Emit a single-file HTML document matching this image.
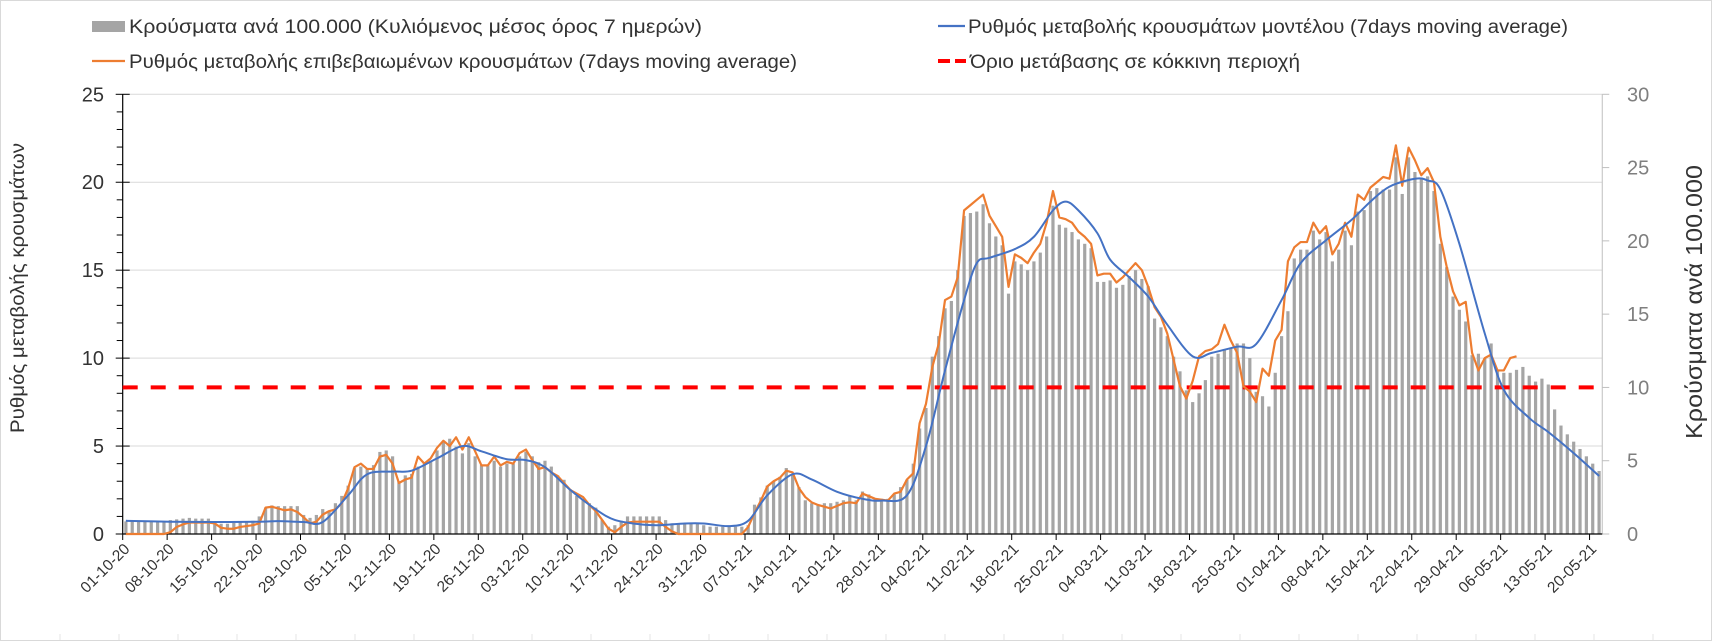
<!DOCTYPE html>
<html>
<head>
<meta charset="utf-8">
<style>
  html,body{margin:0;padding:0;background:#fff;}
  svg{display:block;font-family:"Liberation Sans","DejaVu Sans",sans-serif;}
</style>
</head>
<body>
<svg id="chart" width="1712" height="641" viewBox="0 0 1712 641" xmlns="http://www.w3.org/2000/svg">
  <rect x="0.5" y="0.5" width="1711" height="640" fill="#fff" stroke="#d9d9d9" stroke-width="1"/>
  <g id="grid"></g>
  <g id="bars"></g>
  <g id="axes"></g>
  <g id="lines"></g>
  <g id="labels"></g>

  <g>
    <g>
      <rect x="92" y="21" width="33" height="11" fill="#a5a5a5"/>
      <text x="129" y="33" font-size="19" fill="#333" textLength="573" lengthAdjust="spacingAndGlyphs">Κρούσματα ανά 100.000 (Κυλιόμενος μέσος όρος 7 ημερών)</text>
    </g>
    <g>
      <line x1="92" y1="61" x2="125" y2="61" stroke="#ed7d31" stroke-width="2.2"/>
      <text x="129" y="68" font-size="19" fill="#333" textLength="668" lengthAdjust="spacingAndGlyphs">Ρυθμός μεταβολής επιβεβαιωμένων κρουσμάτων (7days moving average)</text>
    </g>
    <g>
      <line x1="938" y1="26" x2="965" y2="26" stroke="#4472c4" stroke-width="2.2"/>
      <text x="968" y="33" font-size="19" fill="#333" textLength="600" lengthAdjust="spacingAndGlyphs">Ρυθμός μεταβολής κρουσμάτων μοντέλου (7days moving average)</text>
    </g>
    <g>
      <line x1="938" y1="61" x2="966" y2="61" stroke="#ff0000" stroke-width="4" stroke-dasharray="12,5"/>
      <text x="970" y="68" font-size="19" fill="#333" textLength="330" lengthAdjust="spacingAndGlyphs">Όριο μετάβασης σε κόκκινη περιοχή</text>
    </g>
  </g>

  <text transform="translate(24,288) rotate(-90)" text-anchor="middle" font-size="19" fill="#333" textLength="290" lengthAdjust="spacingAndGlyphs">Ρυθμός μεταβολής κρουσμάτων</text>
  <text transform="translate(1702,302) rotate(-90)" text-anchor="middle" font-size="23" fill="#333" textLength="274" lengthAdjust="spacingAndGlyphs">Κρούσματα ανά 100.000</text>
</svg>

<script>
// ---- DATA ----
const startDate = [2020, 9, 1]; // 01-10-20
const tickLabels = ["01-10-20","08-10-20","15-10-20","22-10-20","29-10-20","05-11-20","12-11-20","19-11-20","26-11-20","03-12-20","10-12-20","17-12-20","24-12-20","31-12-20","07-01-21","14-01-21","21-01-21","28-01-21","04-02-21","11-02-21","18-02-21","25-02-21","04-03-21","11-03-21","18-03-21","25-03-21","01-04-21","08-04-21","15-04-21","22-04-21","29-04-21","06-05-21","13-05-21","20-05-21"];
const leftTicks = [0,5,10,15,20,25];
const rightTicks = [0,5,10,15,20,25,30];
const threshold = [10]; // right axis value

// Cases per 100.000 (right axis), daily
const casesBars = [
0.86,0.86,0.86,0.86,0.86,0.86,0.86,
0.95,1.0,1.05,1.1,1.05,1.05,1.05,
0.8,0.7,0.7,0.75,0.8,0.85,0.9,
1.2,1.8,1.95,1.9,1.9,1.9,1.9,
1.3,1.1,1.3,1.7,1.55,2.1,2.6,
3.3,4.5,4.6,4.5,4.7,5.6,5.7,
5.3,3.6,4.0,4.1,4.6,4.8,5.0,
5.7,6.3,6.5,5.96,5.5,6.2,5.3,
4.7,4.7,5.0,4.6,4.8,4.8,5.3,
5.6,5.3,4.9,5.0,4.6,
4.0,3.7,3.05,2.6,2.4,2.1,1.8,0.95,0.5,0.6,0.9,1.2,1.2,1.2,1.2,1.2,1.2,0.95,
0.73,0.73,0.73,0.73,0.73,0.6,0.5,0.5,0.5,0.5,0.5,0.5,0.6,
2.0,2.5,3.3,3.6,3.9,4.5,4.1,3.2,2.3,2.1,2.0,2.1,2.1,2.2,2.3,2.6,2.3,2.9,2.7,2.4,2.4,2.4,2.7,3.2,3.7,4.8,
7.2,8.6,12.1,13.5,15.4,15.9,18.0,21.7,21.9,22.0,22.5,21.2,20.3,19.7,16.4,
18.6,18.4,18.0,18.6,19.2,20.3,22.4,21.1,20.9,20.6,
20.1,19.8,19.5,17.2,17.2,17.3,16.8,17.0,17.6,18.0,
17.4,16.9,14.7,14.1,13.5,12.1,11.1,9.8,9.0,
9.6,10.5,12.1,12.3,12.6,12.7,13.0,13.0,12.0,9.7,9.4,8.7,11.0,13.5,
15.2,18.8,19.4,19.4,20.7,20.1,20.6,18.6,19.4,20.7,19.7,22.0,22.1,23.4,23.6,23.5,23.5,25.7,23.2,25.7,24.7,24.3,24.4,23.4,
19.8,18.2,16.2,15.3,14.5,12.2,12.3,12.0,13.0,11.2,11.0,11.0,11.2,11.4,10.8,10.4,10.6,10.2,
8.5,7.4,6.8,6.3,5.8,5.3,4.8,4.3
];

// Confirmed cases rate (left axis), daily
const confirmedRate = [
0,0,0,0,0,0,0,
0.1,0.4,0.55,0.65,0.65,0.65,0.65,
0.6,0.35,0.3,0.3,0.4,0.45,0.5,
0.6,1.5,1.55,1.45,1.35,1.4,1.25,
0.95,0.6,0.7,1.1,1.3,1.4,1.75,
2.6,3.8,4.0,3.7,3.7,4.4,4.5,
4.0,2.9,3.1,3.2,4.4,4.0,4.3,
4.9,5.3,5.0,5.5,4.8,5.5,4.7,
3.9,3.9,4.4,3.9,4.1,4.0,4.6,
4.8,4.2,3.7,3.8,3.5,3.3,2.9,
2.5,2.3,2.1,1.65,1.3,0.8,0.3,
0.1,0.4,0.65,0.7,0.7,0.7,0.7,
0.7,0.4,0.15,0,0,0,0,
0,0,0,0,0,0,0,
0.4,1.2,1.9,2.7,3.0,3.2,3.6,
3.5,2.6,2.1,1.8,1.65,1.55,1.45,
1.6,1.75,1.8,1.75,2.3,2.15,2.0,
1.95,1.9,2.3,2.4,3.1,3.45,6.3,
7.4,9.5,10.8,13.3,13.5,14.6,18.4,
18.7,19.0,19.3,18.1,17.5,16.9,14.05,
15.9,15.7,15.4,16.0,16.5,17.7,19.5,
18.0,17.9,17.7,17.2,16.9,16.5,14.7,
14.8,14.8,14.3,14.6,15.0,15.4,15.0,
14.05,12.9,12.35,11.4,9.9,8.4,7.7,
8.7,10.1,10.4,10.5,10.8,11.9,11.0,
10.3,8.4,8.1,7.5,9.4,9.0,11.0,
11.6,15.5,16.3,16.6,16.6,17.7,17.1,
17.5,15.9,16.5,17.7,16.9,19.3,19.0,
19.7,20.0,20.3,20.2,22.1,19.8,21.97,
21.25,20.4,20.8,20.0,16.9,15.2,13.8,
13.0,13.2,10.3,9.3,10.0,10.2,9.3,
9.3,10.0,10.1
];

// Model rate (left axis): days since 01-10-20 and values
const modelDays = [0,7,14,21,24,28,31,35,38,42,45,49,53,56,60,63,66,70,74,77,81,84,88,91,95,98,101,105,108,112,116,119,123,126,129,132,134,136,140,143,146,148,150,153,155,158,161,164,168,171,175,178,182,185,189,193,196,199,203,205,207,210,214,217,221,224,228,232];
const modelRate = [0.75,0.70,0.68,0.70,0.73,0.68,0.68,2.2,3.4,3.55,3.6,4.3,5.0,4.7,4.25,4.2,3.8,2.5,1.4,0.8,0.55,0.5,0.6,0.6,0.45,0.75,2.2,3.4,3.1,2.4,2.0,1.9,2.2,5.0,9.3,13.3,15.4,15.7,16.2,16.9,18.4,18.9,18.4,17.1,15.6,14.6,13.5,11.9,10.1,10.3,10.65,10.8,13.3,15.4,16.7,17.85,18.9,19.75,20.2,20.1,19.6,16.5,11.4,8.2,6.6,5.8,4.6,3.3];

// ---- SCALES ----
const X0 = 122.7, DAY = 6.35, Y0 = 534, YTOP = 94.3;
const nDays = 233;
const xEdge = d => X0 + d * DAY;
const xMid = d => X0 + (d + 0.5) * DAY;
const yL = v => Y0 - v * (Y0 - YTOP) / 25;
const yR = v => Y0 - v * (Y0 - YTOP) / 30;
const XEND = xEdge(nDays);
const NS = "http://www.w3.org/2000/svg";
function mk(tag, attrs, parent) {
  const el = document.createElementNS(NS, tag);
  for (const k in attrs) el.setAttribute(k, attrs[k]);
  parent.appendChild(el);
  return el;
}
const gGrid = document.getElementById('grid');
const gBars = document.getElementById('bars');
const gAxes = document.getElementById('axes');
const gLines = document.getElementById('lines');
const gLab = document.getElementById('labels');

// gridlines
leftTicks.forEach(v => {
  if (v === 0) return;
  const l = mk('line', {x1: X0, x2: XEND, y1: yL(v), y2: yL(v), stroke: '#d9d9d9', 'stroke-width': 1}, gGrid);
  
  
});

// bars
casesBars.forEach((v, i) => {
  const r = mk('rect', {x: xMid(i) - 1.6, y: yR(v), width: 3.2, height: Y0 - yR(v), fill: '#a5a5a5'}, gBars);
  
  
});

// left axis
const la = mk('line', {x1: X0, x2: X0, y1: YTOP, y2: Y0, stroke: '#000', 'stroke-width': 1.2}, gAxes);


for (let v = 0; v <= 25; v++) {
  const major = v % 5 === 0;
  mk('line', {x1: major ? X0 - 7 : X0 - 6, x2: major ? X0 + 7 : X0, y1: yL(v), y2: yL(v), stroke: '#000', 'stroke-width': 1}, gAxes);
}
leftTicks.forEach(v => {
  const t = mk('text', {x: 104, y: yL(v) + 7, 'text-anchor': 'end', 'font-size': 20, fill: '#333'}, gLab);
  
  
  t.textContent = v;
});
// right axis
const ra = mk('line', {x1: XEND, x2: XEND, y1: YTOP, y2: Y0, stroke: '#bfbfbf', 'stroke-width': 1}, gAxes);


rightTicks.forEach(v => {
  mk('line', {x1: XEND, x2: XEND + 7, y1: yR(v), y2: yR(v), stroke: '#bfbfbf', 'stroke-width': 1}, gAxes);
  const t = mk('text', {x: 1627, y: yR(v) + 7, 'font-size': 20, fill: '#7f7f7f'}, gLab);
  
  
  t.textContent = v;
});
// x axis
const xa = mk('line', {x1: X0, x2: XEND, y1: Y0, y2: Y0, stroke: '#000', 'stroke-width': 1.2}, gAxes);


tickLabels.forEach((lab, k) => {
  const x = xEdge(k * 7);
  mk('line', {x1: x, x2: x, y1: Y0, y2: Y0 + 6, stroke: '#000', 'stroke-width': 1}, gAxes);
  const t = mk('text', {transform: `translate(${x + 4},${Y0 + 12}) rotate(-45)`, 'text-anchor': 'end', 'font-size': 15.5, fill: '#333', dy: '0.35em'}, gLab);
  
  
  t.textContent = lab;
});

// threshold dashed
const th = mk('line', {x1: X0, x2: XEND, y1: yR(threshold[0]), y2: yR(threshold[0]), stroke: '#ff0000', 'stroke-width': 4, 'stroke-dasharray': '15,13'}, gLines);



// orange line
let d = '';
confirmedRate.forEach((v, i) => { d += (i ? 'L' : 'M') + xMid(i).toFixed(2) + ',' + yL(v).toFixed(2); });
const ol = mk('path', {d: d, fill: 'none', stroke: '#ed7d31', 'stroke-width': 2.2, 'stroke-linejoin': 'round'}, gLines);



// blue smooth line (Catmull-Rom)
const pts = modelDays.map((dd, i) => [xMid(dd), yL(modelRate[i])]);
let bd = 'M' + pts[0][0] + ',' + pts[0][1];
for (let i = 0; i < pts.length - 1; i++) {
  const p0 = pts[Math.max(0, i - 1)], p1 = pts[i], p2 = pts[i + 1], p3 = pts[Math.min(pts.length - 1, i + 2)];
  const c1 = [p1[0] + (p2[0] - p0[0]) / 6, p1[1] + (p2[1] - p0[1]) / 6];
  const c2 = [p2[0] - (p3[0] - p1[0]) / 6, p2[1] - (p3[1] - p1[1]) / 6];
  bd += `C${c1[0].toFixed(2)},${c1[1].toFixed(2)} ${c2[0].toFixed(2)},${c2[1].toFixed(2)} ${p2[0].toFixed(2)},${p2[1].toFixed(2)}`;
}
const bl = mk('path', {d: bd, fill: 'none', stroke: '#4472c4', 'stroke-width': 2}, gLines);



// small bottom border marks
for (let x = 60; x < 1712; x += 59) {
  mk('line', {x1: x, x2: x, y1: 634, y2: 640, stroke: '#e6e6e6', 'stroke-width': 1}, gGrid);
}
</script>
</body>
</html>
